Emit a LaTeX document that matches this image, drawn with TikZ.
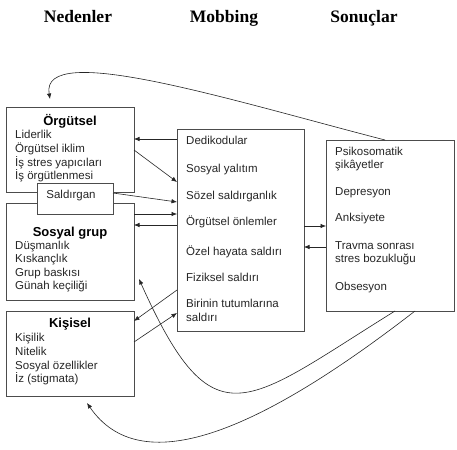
\documentclass[tikz,border=0pt]{standalone}
\usepackage{fontspec}
\setmainfont{Liberation Sans}
\newfontfamily\titlefont{Liberation Serif}
\usetikzlibrary{arrows.meta,calc}
\begin{document}
\begin{tikzpicture}[x=1pt,y=-1pt,
 box/.style={draw=black!70,line width=0.6pt,fill=white,anchor=north west,inner sep=0pt,outer sep=0pt,rectangle},
 item/.style={anchor=base west,inner sep=0pt,font=\fontsize{11.5}{13}\selectfont,text=black!85},
 head/.style={anchor=base,inner sep=0pt,font=\fontsize{13}{15}\selectfont\bfseries},
 ttl/.style={anchor=base,inner sep=0pt,font=\titlefont\fontsize{17.5}{20}\selectfont\bfseries},
 arr/.style={draw=black!85,line width=0.6pt,-{Latex[length=5.5pt,width=4.5pt]}}]
\useasboundingbox[fill=white] (0,0) rectangle (457,449);

% titles
\node[ttl] (tn) at (78,22.7) {Nedenler};
\node[ttl] (tm) at (224,22.7) {Mobbing};
\node[ttl] (ts) at (364,22.7) {Sonuçlar};

% boxes
\node[box,minimum width=128pt,minimum height=85pt] (org) at (6,107) {};
\node[box,minimum width=128pt,minimum height=97pt] (sos) at (6,203) {};
\node[box,minimum width=76pt,minimum height=31pt] (sal) at (37,183) {};
\node[box,minimum width=128pt,minimum height=85pt] (kis) at (6,311) {};
\node[box,minimum width=127pt,minimum height=202pt] (mid) at (177,129) {};
\node[box,minimum width=128pt,minimum height=171pt] (res) at (326,140) {};

% Örgütsel
\node[head] (oh) at (70,125.5) {Örgütsel};
\node[item] (o1) at (15,139) {Liderlik};
\node[item] (o2) at (15,152.7) {Örgütsel iklim};
\node[item] (o3) at (15,166.3) {İş stres yapıcıları};
\node[item] (o4) at (15,179.5) {İş örgütlenmesi};
\node[item,anchor=base] (sl) at (71,198.3) {Saldırgan};

% Sosyal grup
\node[head] (sh) at (70,236.7) {Sosyal grup};
\node[item] (s1) at (15,249.3) {Düşmanlık};
\node[item] (s2) at (15,262.7) {Kıskançlık};
\node[item] (s3) at (15,276) {Grup baskısı};
\node[item] (s4) at (15,289.5) {Günah keçiliği};

% Kişisel
\node[head] (kh) at (70,327) {Kişisel};
\node[item] (k1) at (15,341.7) {Kişilik};
\node[item] (k2) at (15,355.2) {Nitelik};
\node[item] (k3) at (15,369) {Sosyal özellikler};
\node[item] (k4) at (15,382.7) {İz (stigmata)};

% Mobbing
\node[item] (m1) at (186,145) {Dedikodular};
\node[item] (m2) at (186,172.7) {Sosyal yalıtım};
\node[item] (m3) at (186,199) {Sözel saldırganlık};
\node[item] (m4) at (186,225.7) {Örgütsel önlemler};
\node[item] (m5) at (186,255) {Özel hayata saldırı};
\node[item] (m6) at (186,281.7) {Fiziksel saldırı};
\node[item] (m7) at (186,307.3) {Birinin tutumlarına};
\node[item] (m8) at (186,321.7) {saldırı};

% Sonuçlar
\node[item] (r1) at (335,156) {Psikosomatik};
\node[item] (r2) at (335,168.8) {şikâyetler};
\node[item] (r3) at (335,195) {Depresyon};
\node[item] (r4) at (335,221.7) {Anksiyete};
\node[item] (r5) at (335,249.3) {Travma sonrası};
\node[item] (r6) at (335,262.7) {stres bozukluğu};
\node[item] (r7) at (335,290.7) {Obsesyon};

% connectors
\draw[arr] ($(mid.north west)+(0,10)$) -- ($(org.north east)+(0,32)$);
\draw[arr] ($(org.north east)+(0,43)$) -- ($(mid.north west)+(0,53)$);
\draw[arr] ($(sal.north east)+(0,10)$) -- ($(mid.north west)+(0,73)$);
\draw[arr] ($(sos.north east)+(0,11)$) -- ($(mid.north west)+(0,85)$);
\draw[arr] ($(mid.north west)+(0,96)$) -- ($(sos.north east)+(0,22)$);
\draw[arr] ($(mid.north west)+(0,161)$) -- ($(kis.north east)+(0,10)$);
\draw[arr] ($(kis.north east)+(0,31)$) -- ($(mid.north west)+(0,184)$);
\draw[arr] ($(mid.north east)+(0,97)$) -- ($(res.north west)+(0,86)$);
\draw[arr] ($(res.north west)+(0,107)$) -- ($(mid.north east)+(0,118)$);

\draw[arr] ($(res.north west)+(59,0)$) .. controls (230,100) and (40,40) .. ($(org.north west)+(44,-8)$);
\draw[arr] ($(res.south west)+(69,0)$) .. controls (245,404) and (214,446) .. ($(sos.south east)+(5,-21)$);
\draw[arr] ($(res.south west)+(89,0)$) .. controls (255,435) and (140,480) .. ($(kis.south west)+(81,7)$);
\end{tikzpicture}
\end{document}
